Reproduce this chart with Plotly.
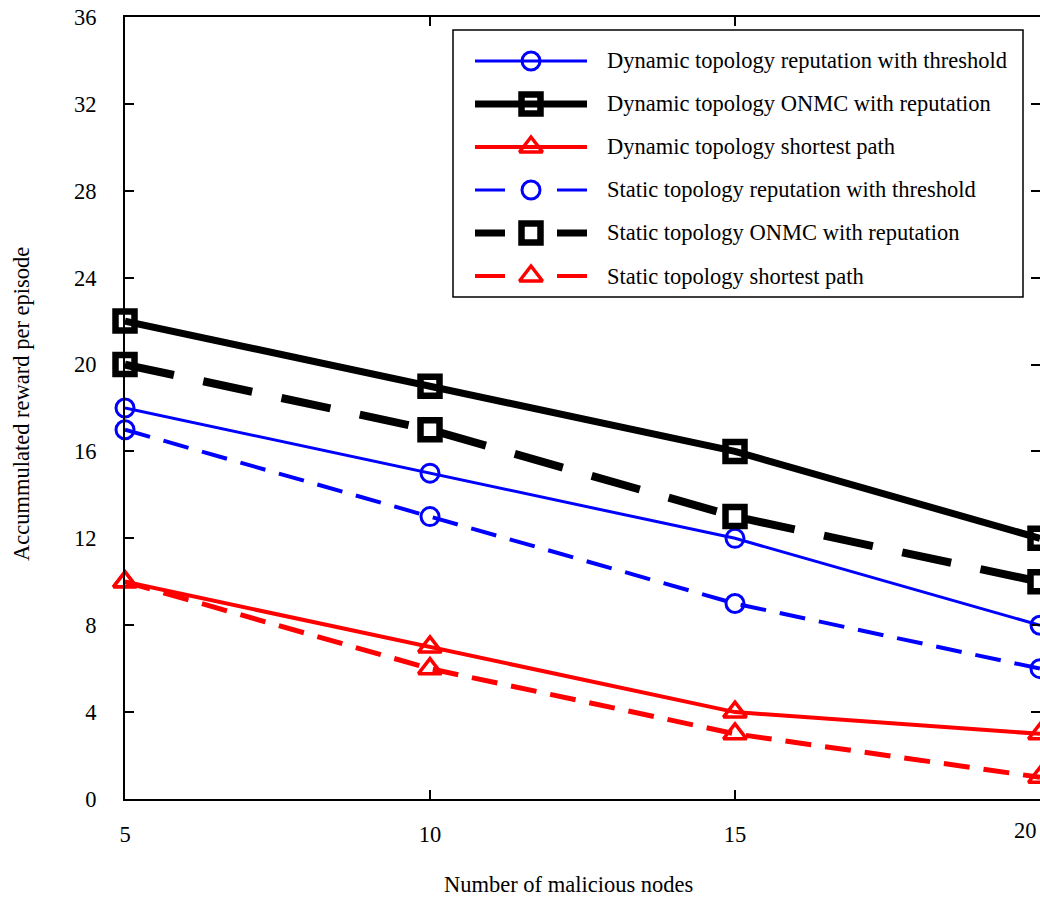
import plotly.graph_objects as go

# Number of malicious nodes
nodes = [5, 10, 15, 20]
x_labels = ["5", "10", "15", "20"]

# Accumulated reward per episode for each strategy
dyn_rep_threshold = [18, 15, 12, 8]
dyn_onmc_rep = [22, 19, 16, 12]
dyn_shortest = [10, 7, 4, 3]
sta_rep_threshold = [17, 13, 9, 6]
sta_onmc_rep = [20, 17, 13, 10]
sta_shortest = [10, 6, 3, 1]

names = [
    "Dynamic topology reputation with threshold",
    "Dynamic topology ONMC with reputation",
    "Dynamic topology shortest path",
    "Static topology reputation with threshold",
    "Static topology ONMC with reputation",
    "Static topology shortest path",
]
series = [dyn_rep_threshold, dyn_onmc_rep, dyn_shortest,
          sta_rep_threshold, sta_onmc_rep, sta_shortest]

y_ticks = [0, 4, 8, 12, 16, 20, 24, 28, 32, 36]

FONT = "Liberation Serif, Times New Roman, serif"
FS = 22.5
W, H = 1040, 897
ML, MR, MT, MB = 125, 0, 17, 98
PW, PH = W - ML - MR, H - MT - MB

BLUE, BLACK, RED = "#0000ff", "#000000", "#ff0000"
styles = [
    dict(color=BLUE, width=3, dash="solid", symbol="circle-open", msize=18, mline=3),
    dict(color=BLACK, width=7, dash="solid", symbol="square-open", msize=19, mline=6.5),
    dict(color=RED, width=4, dash="solid", symbol="triangle-up-open", msize=20, mline=3.5),
    dict(color=BLUE, width=4, dash="26px,14px", symbol="circle-open", msize=18, mline=3),
    dict(color=BLACK, width=8, dash="50px,30px", symbol="square-open", msize=19, mline=6.5),
    dict(color=RED, width=5, dash="26px,14px", symbol="triangle-up-open", msize=20, mline=3.5),
]


def px(x):
    return (x - ML) / PW


def py(y):
    return (H - MB - y) / PH


fig = go.Figure()

for name, vals, st in zip(names, series, styles):
    fig.add_trace(go.Scatter(
        x=nodes, y=vals, name=name, mode="lines+markers",
        line=dict(color=st["color"], width=st["width"], dash=st["dash"]),
        marker=dict(symbol=st["symbol"], size=st["msize"], color=st["color"],
                    line=dict(color=st["color"], width=st["mline"])),
        cliponaxis=False, showlegend=False,
    ))

# Hand-built legend box; samples sit on an overlay axis spanning the plot area in [0, 1]
shapes = [dict(type="rect", xref="paper", yref="paper",
               x0=px(453), x1=px(1023), y0=py(297), y1=py(30),
               line=dict(color="black", width=1.5), fillcolor="white", layer="below")]
annotations = []
row_y = [61, 104, 147, 190, 233, 276]
for i, (name, st) in enumerate(zip(names, styles)):
    yy = py(row_y[i])
    dashed = st["dash"] != "solid"
    segs = [(475, 505), (557, 587)] if dashed else [(475, 587)]
    for a, b in segs:
        fig.add_trace(go.Scatter(
            x=[px(a), px(b)], y=[yy, yy], xaxis="x2", yaxis="y2", mode="lines",
            line=dict(color=st["color"], width=st["width"] if not dashed else st["width"] - 1),
            cliponaxis=False, showlegend=False, hoverinfo="skip"))
    fig.add_trace(go.Scatter(
        x=[px(531)], y=[yy], xaxis="x2", yaxis="y2", mode="markers",
        marker=dict(symbol=st["symbol"], size=st["msize"], color=st["color"],
                    line=dict(color=st["color"], width=st["mline"])),
        cliponaxis=False, showlegend=False, hoverinfo="skip"))
    annotations.append(dict(
        xref="paper", yref="paper", x=px(605), y=yy, text=name, showarrow=False,
        xanchor="left", yanchor="middle", font=dict(family=FONT, size=FS, color="black")))

# The last x tick label sits at the right edge, so it is right-aligned to stay on the page
annotations.append(dict(
    xref="x", yref="paper", x=nodes[-1], y=py(830), text=x_labels[-1], showarrow=False,
    xanchor="right", yanchor="middle", xshift=-1,
    font=dict(family=FONT, size=FS, color="black")))

annotations.append(dict(
    xref="paper", yref="paper", x=px(568), y=py(884), text="Number of malicious nodes",
    showarrow=False, xanchor="center", yanchor="middle",
    font=dict(family=FONT, size=FS, color="black")))
annotations.append(dict(
    xref="paper", yref="paper", x=px(21), y=py(404), text="Accummulated reward per episode",
    showarrow=False, xanchor="center", yanchor="middle", textangle=-90,
    font=dict(family=FONT, size=FS, color="black")))

axis_common = dict(
    showgrid=False, zeroline=False, showline=True, linecolor="black", linewidth=2,
    mirror="ticks", ticks="inside", ticklen=9, tickwidth=1.5, tickcolor="black",
    tickfont=dict(family=FONT, size=FS, color="black"),
    automargin=False,
)

fig.update_layout(
    width=W, height=H,
    margin=dict(l=ML, r=MR, t=MT, b=MB, autoexpand=False),
    paper_bgcolor="white", plot_bgcolor="white",
    xaxis=dict(range=[5, 20], tickvals=nodes, ticktext=x_labels[:-1] + [""],
               ticklabelstandoff=14, **axis_common),
    yaxis=dict(range=[0, 36], tickvals=y_ticks, ticklabelstandoff=22, **axis_common),
    xaxis2=dict(overlaying="x", range=[0, 1], visible=False),
    yaxis2=dict(overlaying="y", range=[0, 1], visible=False),
    shapes=shapes, annotations=annotations,
)

fig.write_html("out.html")
